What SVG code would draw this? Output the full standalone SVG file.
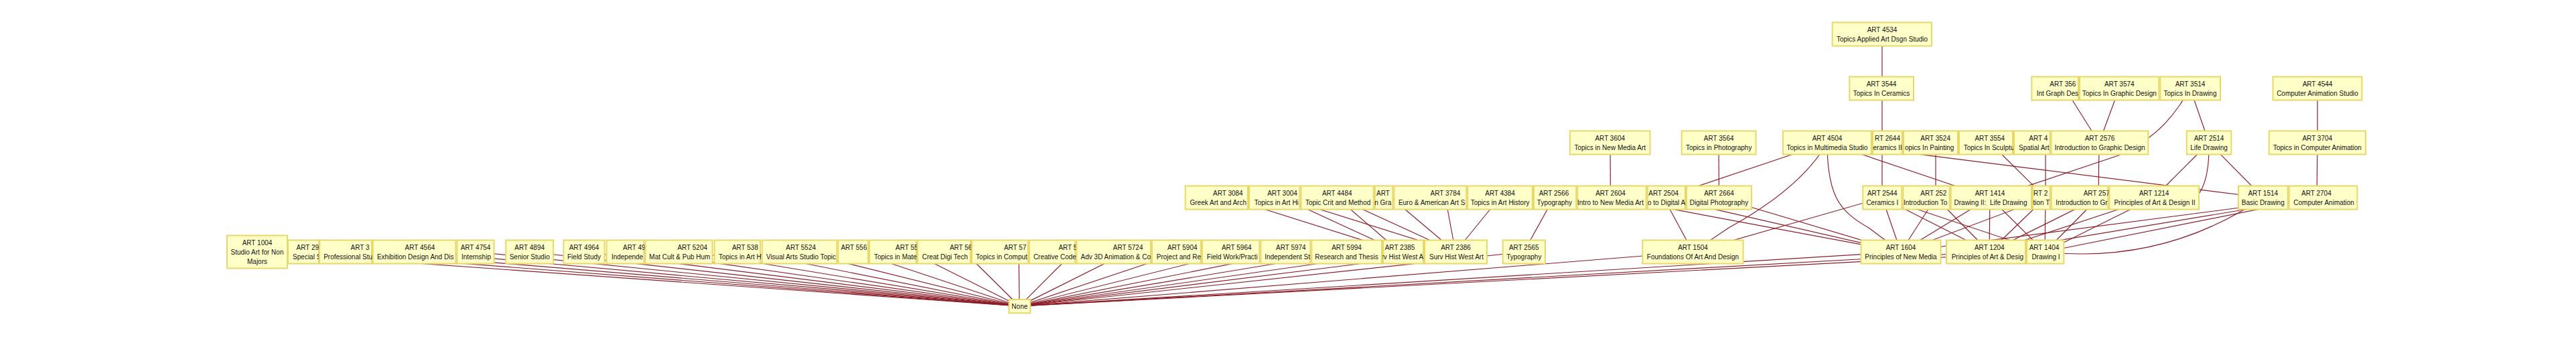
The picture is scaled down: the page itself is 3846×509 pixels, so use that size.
<svg xmlns="http://www.w3.org/2000/svg" width="3846" height="509" viewBox="0 0 3846 509">
<style>
.n rect{fill:#FFFFC8;stroke:#E8D86C;stroke-width:2}
text{font-family:"Liberation Sans",Arial,sans-serif;font-size:10px;fill:#111}
.m{text-anchor:middle}
.e line,.e path{stroke:#8B1C26;stroke-width:1.15;fill:none}
</style>
<rect width="3846" height="509" fill="#fff"/>
<g id="connectors" class="e">
<line x1="384" y1="376" x2="1522" y2="457"/>
<line x1="465" y1="376" x2="1522" y2="457"/>
<line x1="546" y1="376" x2="1522" y2="457"/>
<line x1="627" y1="376" x2="1522" y2="457"/>
<line x1="710" y1="376" x2="1522" y2="457"/>
<line x1="791" y1="376" x2="1522" y2="457"/>
<line x1="872" y1="376" x2="1522" y2="457"/>
<line x1="952" y1="376" x2="1522" y2="457"/>
<line x1="1034" y1="376" x2="1522" y2="457"/>
<line x1="1115" y1="376" x2="1522" y2="457"/>
<line x1="1196" y1="376" x2="1522" y2="457"/>
<line x1="1278" y1="376" x2="1522" y2="457"/>
<line x1="1360" y1="376" x2="1522" y2="457"/>
<line x1="1440" y1="376" x2="1522" y2="457"/>
<line x1="1521" y1="376" x2="1522" y2="457"/>
<line x1="1603" y1="376" x2="1522" y2="457"/>
<line x1="1684" y1="376" x2="1522" y2="457"/>
<line x1="1765" y1="376" x2="1522" y2="457"/>
<line x1="1846" y1="376" x2="1522" y2="457"/>
<line x1="1928" y1="376" x2="1522" y2="457"/>
<line x1="2010" y1="376" x2="1522" y2="457"/>
<line x1="2090" y1="376" x2="1522" y2="457"/>
<line x1="2173" y1="376" x2="1522" y2="457"/>
<line x1="2275" y1="376" x2="1522" y2="457"/>
<line x1="2527.5" y1="376" x2="1522" y2="457"/>
<line x1="2838" y1="376" x2="1522" y2="457"/>
<line x1="2970" y1="376" x2="1522" y2="457"/>
<line x1="3053" y1="376" x2="1522" y2="457"/>
<line x1="1833" y1="295" x2="2090" y2="376"/>
<line x1="1914.5" y1="295" x2="2090" y2="376"/>
<line x1="1914.5" y1="295" x2="2173" y2="376"/>
<line x1="1996" y1="295" x2="2090" y2="376"/>
<line x1="1996" y1="295" x2="2173" y2="376"/>
<line x1="2077" y1="295" x2="2173" y2="376"/>
<line x1="2158" y1="295" x2="2173" y2="376"/>
<line x1="2239" y1="295" x2="2173" y2="376"/>
<line x1="2320" y1="295" x2="2275" y2="376"/>
<line x1="2404.5" y1="295" x2="2838" y2="376"/>
<line x1="2483.7" y1="295" x2="2527.5" y2="376"/>
<line x1="2483.7" y1="295" x2="2838" y2="376"/>
<line x1="2566.5" y1="295" x2="2838" y2="376"/>
<line x1="2810" y1="295" x2="2527.5" y2="376"/>
<line x1="2810" y1="295" x2="2838" y2="376"/>
<line x1="2810" y1="295" x2="2970" y2="376"/>
<line x1="2810" y1="295" x2="3053" y2="376"/>
<line x1="2890" y1="295" x2="2838" y2="376"/>
<line x1="2890" y1="295" x2="2970" y2="376"/>
<line x1="2971" y1="295" x2="2838" y2="376"/>
<line x1="2971" y1="295" x2="2970" y2="376"/>
<line x1="2971" y1="295" x2="3053" y2="376"/>
<line x1="3054" y1="295" x2="2838" y2="376"/>
<line x1="3054" y1="295" x2="2970" y2="376"/>
<line x1="3054" y1="295" x2="3053" y2="376"/>
<line x1="3133" y1="295" x2="2970" y2="376"/>
<line x1="3133" y1="295" x2="3053" y2="376"/>
<line x1="3216" y1="295" x2="2970" y2="376"/>
<line x1="3216" y1="295" x2="3053" y2="376"/>
<line x1="3459" y1="295" x2="2838" y2="376"/>
<line x1="3459" y1="295" x2="2970" y2="376"/>
<line x1="3459" y1="295" x2="3053" y2="376"/>
<path d="M3379 295 Q3230 395 3053 376"/>
<line x1="2404" y1="213" x2="2404.5" y2="295"/>
<line x1="2566" y1="213" x2="2566.5" y2="295"/>
<line x1="2728" y1="213" x2="2483.7" y2="295"/>
<path d="M2728 213 Q2690 280 2581 340 L2527.5 376"/>
<path d="M2728 213 C2728 290 2745 315 2790 340 L2838 376"/>
<line x1="2728" y1="213" x2="2971" y2="295"/>
<line x1="2728" y1="213" x2="3379" y2="295"/>
<line x1="2810" y1="213" x2="2810" y2="295"/>
<line x1="2890" y1="213" x2="2890" y2="295"/>
<line x1="2971" y1="213" x2="3054" y2="295"/>
<line x1="3054" y1="213" x2="3054" y2="295"/>
<line x1="3134" y1="213" x2="3133" y2="295"/>
<line x1="3298" y1="213" x2="3216" y2="295"/>
<path d="M3298 213 Q3300 335 3216 295"/>
<line x1="3298" y1="213" x2="3379" y2="295"/>
<line x1="3460" y1="213" x2="3459" y2="295"/>
<line x1="2810" y1="132" x2="2810" y2="213"/>
<line x1="3083" y1="132" x2="3134" y2="213"/>
<line x1="3164" y1="132" x2="3134" y2="213"/>
<line x1="3270" y1="132" x2="3298" y2="213"/>
<path d="M3270 132 C3250 165 3228 202 3163 232 L2975 295"/>
<line x1="3460" y1="132" x2="3460" y2="213"/>
<line x1="2810" y1="51" x2="2810" y2="132"/>
</g>
<g id="node-art-4534" class="n"><rect x="2735.7" y="33.5" width="148.3" height="35"/><text class="m" x="2810" y="48">ART 4534</text><text class="m" x="2810" y="62">Topics Applied Art Dsgn Studio</text></g>
<g id="node-art-3544" class="n"><rect x="2761.3" y="114.5" width="95.7" height="35"/><text class="m" x="2809" y="129">ART 3544</text><text class="m" x="2809" y="143">Topics In Ceramics</text></g>
<g id="node-art-3565" class="n"><rect x="3033.3" y="114.5" width="69.7" height="35"/><text x="3060.3" y="129">ART 356</text><text x="3040.7" y="143">Int Graph Des</text></g>
<g id="node-art-3574" class="n"><rect x="3105" y="114.5" width="118.3" height="35"/><text class="m" x="3164.3" y="129">ART 3574</text><text class="m" x="3164.3" y="143">Topics In Graphic Design</text></g>
<g id="node-art-3514" class="n"><rect x="3225.3" y="114.5" width="89.7" height="35"/><text class="m" x="3270" y="129">ART 3514</text><text class="m" x="3270" y="143">Topics In Drawing</text></g>
<g id="node-art-4544" class="n"><rect x="3393.5" y="114.5" width="132.9" height="35"/><text class="m" x="3460" y="129">ART 4544</text><text class="m" x="3460" y="143">Computer Animation Studio</text></g>
<g id="node-art-3604" class="n"><rect x="2343.9" y="195.5" width="119.7" height="35"/><text class="m" x="2403.8" y="210">ART 3604</text><text class="m" x="2403.8" y="224">Topics in New Media Art</text></g>
<g id="node-art-3564" class="n"><rect x="2510.7" y="195.5" width="110.9" height="35"/><text class="m" x="2566.2" y="210">ART 3564</text><text class="m" x="2566.2" y="224">Topics in Photography</text></g>
<g id="node-art-2644" class="n"><rect x="2796" y="195.5" width="44" height="35"/><text x="2799" y="210">RT 2644</text><text x="2796.5" y="224">eramics II</text></g>
<g id="node-art-4504" class="n"><rect x="2661.9" y="195.5" width="132.1" height="35"/><text class="m" x="2728" y="210">ART 4504</text><text class="m" x="2728" y="224">Topics in Multimedia Studio</text></g>
<g id="node-art-3524" class="n"><rect x="2842" y="195.5" width="81" height="35"/><text x="2867.3" y="210">ART 3524</text><text x="2844" y="224">opics In Painting</text></g>
<g id="node-art-3554" class="n"><rect x="2925" y="195.5" width="80" height="35"/><text class="m" x="2970.8" y="210">ART 3554</text><text x="2931.7" y="224">Topics In Sculptu</text></g>
<g id="node-art-45xx" class="n"><rect x="3007" y="195.5" width="53.7" height="35"/><text x="3029.3" y="210">ART 4</text><text x="3014" y="224">Spatial Art</text></g>
<g id="node-art-2576" class="n"><rect x="3062.5" y="195.5" width="144.8" height="35"/><text class="m" x="3135" y="210">ART 2576</text><text class="m" x="3135" y="224">Introduction to Graphic Design</text></g>
<g id="node-art-2514" class="n"><rect x="3264.7" y="195.5" width="66.6" height="35"/><text class="m" x="3298" y="210">ART 2514</text><text class="m" x="3298" y="224">Life Drawing</text></g>
<g id="node-art-3704" class="n"><rect x="3387.7" y="195.5" width="144.2" height="35"/><text class="m" x="3459.8" y="210">ART 3704</text><text class="m" x="3459.8" y="224">Topics in Computer Animation</text></g>
<g id="node-art-3084" class="n"><rect x="1769.7" y="277.5" width="93.3" height="35"/><text x="1811" y="292">ART 3084</text><text x="1776.5" y="306">Greek Art and Arch</text></g>
<g id="node-art-3004" class="n"><rect x="1865" y="277.5" width="75.5" height="35"/><text x="1892.2" y="292">ART 3004</text><text x="1872.7" y="306">Topics in Art Hi</text></g>
<g id="node-art-4484" class="n"><rect x="1942.5" y="277.5" width="108.3" height="35"/><text x="1973.9" y="292">ART 4484</text><text x="1949" y="306">Topic Crit and Method</text></g>
<g id="node-art-3xxx" class="n"><rect x="2052.8" y="277.5" width="26.6" height="35"/><text x="2055.1" y="292">ART</text><text x="2052.2" y="306">n Gra</text></g>
<g id="node-art-3784" class="n"><rect x="2081.4" y="277.5" width="107.9" height="35"/><text x="2135.6" y="292">ART 3784</text><text x="2087.9" y="306">Euro &amp; American Art S</text></g>
<g id="node-art-4384" class="n"><rect x="2191.3" y="277.5" width="96.7" height="35"/><text class="m" x="2239.6" y="292">ART 4384</text><text class="m" x="2239.6" y="306">Topics in Art History</text></g>
<g id="node-art-2566" class="n"><rect x="2290" y="277.5" width="63.3" height="35"/><text class="m" x="2320" y="292">ART 2566</text><text class="m" x="2321" y="306">Typography</text></g>
<g id="node-art-2604" class="n"><rect x="2355.3" y="277.5" width="102.5" height="35"/><text class="m" x="2404.5" y="292">ART 2604</text><text class="m" x="2404.5" y="306">Intro to New Media Art</text></g>
<g id="node-art-2504" class="n"><rect x="2459.8" y="277.5" width="56.2" height="35"/><text class="m" x="2483.7" y="292">ART 2504</text><text x="2460" y="306">o to Digital A</text></g>
<g id="node-art-2664" class="n"><rect x="2518" y="277.5" width="97.1" height="35"/><text class="m" x="2566.5" y="292">ART 2664</text><text class="m" x="2566.5" y="306">Digital Photography</text></g>
<g id="node-art-2544" class="n"><rect x="2781.3" y="277.5" width="58.1" height="35"/><text class="m" x="2810.3" y="292">ART 2544</text><text class="m" x="2810.3" y="306">Ceramics I</text></g>
<g id="node-art-2524" class="n"><rect x="2841.4" y="277.5" width="69.3" height="35"/><text x="2867.3" y="292">ART 252</text><text x="2841.9" y="306">Introduction To</text></g>
<g id="node-art-25xx" class="n"><rect x="3035" y="277.5" width="25.7" height="35"/><text x="3036" y="292">RT 2</text><text x="3035.5" y="306">tion T</text></g>
<g id="node-art-1414" class="n"><rect x="2912.7" y="277.5" width="120.3" height="35"/><text class="m" x="2971" y="292">ART 1414</text><text class="m" x="2972" y="306" style="white-space:pre">Drawing II:  Life Drawing</text></g>
<g id="node-art-257x" class="n"><rect x="3062.7" y="277.5" width="84.6" height="35"/><text x="3110.7" y="292">ART 257</text><text x="3069.3" y="306">Introduction to Gr</text></g>
<g id="node-art-1214" class="n"><rect x="3149.3" y="277.5" width="133.7" height="35"/><text class="m" x="3216" y="292">ART 1214</text><text class="m" x="3217" y="306">Principles of Art &amp; Design II</text></g>
<g id="node-art-1514" class="n"><rect x="3342" y="277.5" width="73.7" height="35"/><text class="m" x="3378.8" y="292">ART 1514</text><text class="m" x="3378.8" y="306">Basic Drawing</text></g>
<g id="node-art-2704" class="n"><rect x="3417.6" y="277.5" width="101.8" height="35"/><text class="m" x="3458.4" y="292">ART 2704</text><text x="3424.3" y="306">Computer Animation</text></g>
<g id="node-art-1004" class="n"><rect x="339" y="351.5" width="90" height="49"/><text class="m" x="384" y="366">ART 1004</text><text class="m" x="384" y="380">Studio Art for Non</text><text class="m" x="384" y="394">Majors</text></g>
<g id="node-art-29xx" class="n"><rect x="430" y="358.5" width="46" height="35"/><text x="442.5" y="373">ART 29</text><text x="437.1" y="387">Special S</text></g>
<g id="node-art-38xx" class="n"><rect x="477" y="358.5" width="78" height="35"/><text x="523.6" y="373">ART 3</text><text x="483.2" y="387">Professional Stu</text></g>
<g id="node-art-4564" class="n"><rect x="556.7" y="358.5" width="123.7" height="35"/><text x="604.6" y="373">ART 4564</text><text x="562.9" y="387">Exhibition Design And Dis</text></g>
<g id="node-art-4754" class="n"><rect x="682.4" y="358.5" width="55.2" height="35"/><text class="m" x="710" y="373">ART 4754</text><text class="m" x="711" y="387">Internship</text></g>
<g id="node-art-4894" class="n"><rect x="755.3" y="358.5" width="70.8" height="35"/><text class="m" x="790.7" y="373">ART 4894</text><text class="m" x="790.7" y="387">Senior Studio</text></g>
<g id="node-art-4964" class="n"><rect x="841.4" y="358.5" width="61.2" height="35"/><text class="m" x="872" y="373">ART 4964</text><text class="m" x="872" y="387">Field Study</text></g>
<g id="node-art-49xx" class="n"><rect x="905.6" y="358.5" width="55.9" height="35"/><text x="930" y="373">ART 49</text><text x="912.9" y="387">Independe</text></g>
<g id="node-art-5204" class="n"><rect x="963.5" y="358.5" width="100.1" height="35"/><text x="1011.4" y="373">ART 5204</text><text x="969.3" y="387">Mat Cult &amp; Pub Hum</text></g>
<g id="node-art-538x" class="n"><rect x="1066.7" y="358.5" width="68.4" height="35"/><text x="1092.9" y="373">ART 538</text><text x="1072.9" y="387">Topics in Art H</text></g>
<g id="node-art-5524" class="n"><rect x="1137.8" y="358.5" width="111.6" height="35"/><text class="m" x="1195.7" y="373">ART 5524</text><text x="1143.9" y="387">Visual Arts Studio Topic</text></g>
<g id="node-art-556x" class="n"><rect x="1251.4" y="358.5" width="44.7" height="35"/><text x="1255.4" y="373">ART 556</text></g>
<g id="node-art-55xx" class="n"><rect x="1298.1" y="358.5" width="69.8" height="35"/><text x="1337.1" y="373">ART 55</text><text x="1305" y="387">Topics in Mate</text></g>
<g id="node-art-56xx" class="n"><rect x="1369.9" y="358.5" width="79.1" height="35"/><text x="1417.9" y="373">ART 56</text><text x="1376.8" y="387">Creat Digi Tech</text></g>
<g id="node-art-57xx" class="n"><rect x="1451" y="358.5" width="83.7" height="35"/><text x="1498.9" y="373">ART 57</text><text x="1457.1" y="387">Topics in Comput</text></g>
<g id="node-art-5xxx" class="n"><rect x="1536.7" y="358.5" width="68.7" height="35"/><text x="1580.4" y="373">ART 5</text><text x="1542.9" y="387">Creative Code</text></g>
<g id="node-art-5724" class="n"><rect x="1607.4" y="358.5" width="110.5" height="35"/><text x="1661.8" y="373">ART 5724</text><text x="1613.6" y="387">Adv 3D Animation &amp; Co</text></g>
<g id="node-art-5904" class="n"><rect x="1719.9" y="358.5" width="73" height="35"/><text x="1742.9" y="373">ART 5904</text><text x="1726.8" y="387">Project and Re</text></g>
<g id="node-art-5964" class="n"><rect x="1794.9" y="358.5" width="85.5" height="35"/><text x="1823.9" y="373">ART 5964</text><text x="1801.8" y="387">Field Work/Practi</text></g>
<g id="node-art-5974" class="n"><rect x="1882.4" y="358.5" width="73.9" height="35"/><text x="1905" y="373">ART 5974</text><text x="1888.2" y="387">Independent St</text></g>
<g id="node-art-2385" class="n"><rect x="2065" y="358.5" width="60" height="35"/><text x="2067.7" y="373">ART 2385</text><text x="2062.5" y="387">rv Hist West A</text></g>
<g id="node-art-5994" class="n"><rect x="1958.3" y="358.5" width="104.7" height="35"/><text class="m" x="2010.5" y="373">ART 5994</text><text class="m" x="2010.5" y="387">Research and Thesis</text></g>
<g id="node-art-2386" class="n"><rect x="2127" y="358.5" width="93" height="35"/><text class="m" x="2173.5" y="373">ART 2386</text><text class="m" x="2174.5" y="387">Surv Hist West Art</text></g>
<g id="node-art-2565" class="n"><rect x="2243.7" y="358.5" width="63.3" height="35"/><text class="m" x="2275.3" y="373">ART 2565</text><text class="m" x="2275.3" y="387">Typography</text></g>
<g id="node-art-1504" class="n"><rect x="2452.3" y="358.5" width="150.3" height="35"/><text class="m" x="2527.5" y="373">ART 1504</text><text class="m" x="2527.5" y="387">Foundations Of Art And Design</text></g>
<g id="node-art-1604" class="n"><rect x="2778.5" y="358.5" width="119" height="35"/><text class="m" x="2838" y="373">ART 1604</text><text class="m" x="2838" y="387">Principles of New Media</text></g>
<g id="node-art-1204" class="n"><rect x="2906" y="358.5" width="118" height="35"/><text class="m" x="2970.3" y="373">ART 1204</text><text x="2913.7" y="387">Principles of Art &amp; Desig</text></g>
<g id="node-art-1404" class="n"><rect x="3026" y="358.5" width="55.3" height="35"/><text class="m" x="3052" y="373">ART 1404</text><text class="m" x="3054.5" y="387">Drawing I</text></g>
<g id="node-none" class="n"><rect x="1506.4" y="447" width="31.9" height="20.3"/><text class="m" x="1522.3" y="461">None</text></g>
</svg>
